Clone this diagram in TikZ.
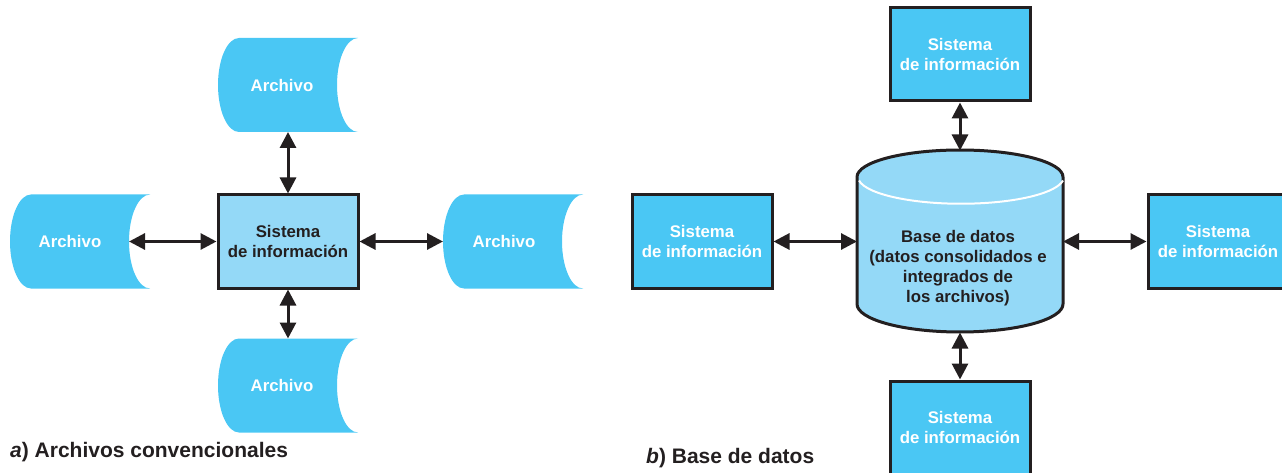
\documentclass[tikz,border=0pt]{standalone}
\usepackage{fontspec}
\setmainfont{Liberation Sans}
\usetikzlibrary{arrows.meta,calc}
\definecolor{archblue}{HTML}{4AC7F4}
\definecolor{lightblue}{HTML}{94D9F7}
\definecolor{ink}{HTML}{231F20}
\newcommand\archshape[3]{%
  \node[archspot] (#1) at (#2,#3) {};
  \fill[archblue] ($(#1.north west)+(21,0)$) -- (#1.north east)
     arc[start angle=270,end angle=90,x radius=21,y radius=47]
     -- ($(#1.south west)+(21,0)$)
     arc[start angle=90,end angle=270,x radius=21,y radius=47] -- cycle;
  \coordinate (#1-in) at ($(#1.east)+(-21,0)$);
}
\begin{document}
\begin{tikzpicture}[x=1pt,y=-1pt,
  lbl/.style={font=\fontsize{16.8}{20}\selectfont\bfseries, align=center, inner sep=0pt},
  archlabel/.style={lbl, text=white},
  archspot/.style={minimum width=140pt, minimum height=94pt, inner sep=0pt, outer sep=0pt, draw=none},
  sysbox/.style={draw=ink, line width=3pt, minimum width=140pt, minimum height=93pt, inner sep=0pt, lbl},
  sysdark/.style={sysbox, fill=lightblue, text=ink},
  syslight/.style={sysbox, fill=archblue, text=white},
  dbspot/.style={draw=none, minimum width=206pt, minimum height=182pt, inner sep=0pt, outer sep=0pt},
  conn/.style={draw=ink, line width=3pt, {Triangle[length=16pt,width=16pt]}-{Triangle[length=16pt,width=16pt]}},
  caption/.style={font=\fontsize{21}{25}\selectfont\bfseries, text=ink, anchor=base west, inner sep=0pt}
]
\useasboundingbox (0,0) rectangle (1282,473);

% ---- a) Archivos convencionales ----
\archshape{At}{288}{85}
\archshape{Al}{80}{241.5}
\archshape{Ar}{513}{241.5}
\archshape{Ab}{288}{385.5}
\node[archlabel] (Att) at (282,85) {Archivo};
\node[archlabel] (Alt) at (70,241) {Archivo};
\node[archlabel] (Art) at (504,241) {Archivo};
\node[archlabel] (Abt) at (282,385.5) {Archivo};

\node[sysdark] (S0) at (288,241.5) {Sistema\\de información};

\draw[conn] (Al-in) -- (S0.west);
\draw[conn] (At.south) -- (S0.north);
\draw[conn] (S0.east) -- (Ar.west);
\draw[conn] (S0.south) -- (Ab.north);

% ---- b) Base de datos ----
\path[fill=lightblue, draw=ink, line width=3pt]
  (857,177) -- (857,304) arc[start angle=180,end angle=0,x radius=103,y radius=28]
  -- (1063,177) arc[start angle=0,end angle=-180,x radius=103,y radius=27] -- cycle;
\draw[white, line width=2pt] (859,180.5) arc[start angle=172,end angle=8,x radius=103,y radius=27];
\node[dbspot] (db) at (960,241.5) {};
\node[lbl, text=ink] (dbt) at (958,268) {Base de datos\\(datos consolidados e\\integrados de\\ los archivos)};

\node[syslight] (S1) at (960,54.5) {Sistema\\de información};
\node[syslight] (S2) at (702,241.5) {Sistema\\de información};
\node[syslight] (S3) at (1218,241.5) {Sistema\\de información};
\node[syslight] (S4) at (960,427.5) {Sistema\\de información};

\draw[conn] (S1.south) -- (db.north);
\draw[conn] (S2.east) -- (db.west);
\draw[conn] (db.east) -- (S3.west);
\draw[conn] (db.south) -- (S4.north);

\node[caption] (capa) at (10,457.5) {\textit{a}) Archivos convencionales};
\node[caption] (capb) at (646,463) {\textit{b}) Base de datos};
\end{tikzpicture}
\end{document}
